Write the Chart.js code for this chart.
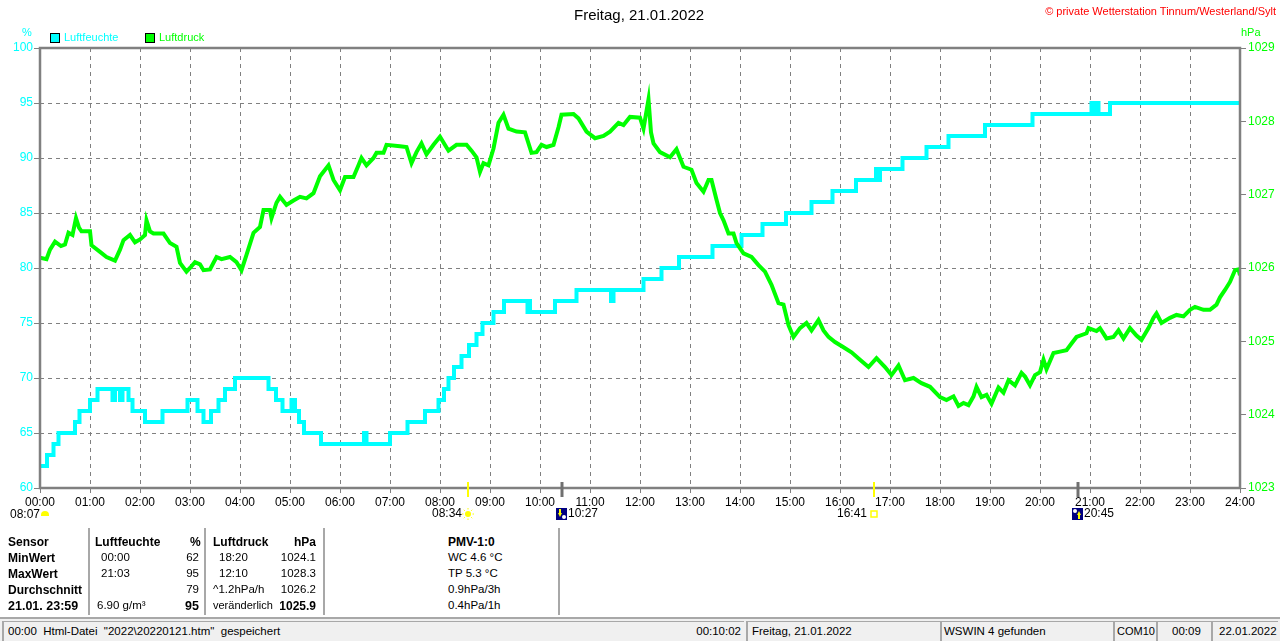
<!DOCTYPE html>
<html>
<head>
<meta charset="utf-8">
<script src="https://cdn.jsdelivr.net/npm/chart.js@4.4.1/dist/chart.umd.min.js"></script>
<style>
  html, body { margin:0; padding:0; background:#fff; }
  body { width:1280px; height:641px; position:relative; overflow:hidden; font-family:"Liberation Sans", Arial, sans-serif; }
  #wrap { position:absolute; left:0; top:0; width:1280px; height:520px; }
  .t { position:absolute; white-space:nowrap; line-height:1; font-size:11.5px; }
  .b { font-weight:bold; font-size:12px; }
  .sep { position:absolute; top:528px; height:87px; width:2px; background:#a8a8a8; }
  #status { position:absolute; left:0; top:617px; width:1280px; height:24px; background:#f0f0f0; border-top:2px solid #a8a8a8; box-sizing:border-box; }
  .pan { position:absolute; top:2px; height:20px; border-left:2px solid #a8a8a8; border-top:1px solid #a8a8a8; box-sizing:border-box; font-size:11.5px; line-height:18px; padding-left:4px; white-space:nowrap; overflow:hidden; }
</style>
</head>
<body>
<div id="wrap"><canvas id="c" width="1280" height="520"></canvas></div>

<div class="t" style="left:574px;top:7px;font-size:15px;color:#000;">Freitag, 21.01.2022</div>
<div class="t" style="right:4px;top:6px;font-size:11px;color:#ff0000;">© private Wetterstation Tinnum/Westerland/Sylt</div>
<div class="t" style="left:22px;top:27px;font-size:11px;color:#00ffff;">%</div>
<div class="t" style="left:1241px;top:27px;font-size:11px;color:#00ff00;">hPa</div>
<div style="position:absolute;left:50px;top:33px;width:8px;height:8px;background:#00ffff;border:1px solid #000;"></div>
<div class="t" style="left:64px;top:32px;font-size:11px;color:#00ffff;">Luftfeuchte</div>
<div style="position:absolute;left:145px;top:33px;width:8px;height:8px;background:#00ff00;border:1px solid #000;"></div>
<div class="t" style="left:159px;top:32px;font-size:11px;color:#00ff00;">Luftdruck</div>

<div class="t" style="left:10px;top:508px;font-size:12px;color:#000;">08:07</div>
<div style="position:absolute;left:41px;top:511px;width:8px;height:5px;background:#ffff00;border-radius:5px 5px 0 0;"></div>

<!-- stats table -->
<div class="sep" style="left:88px"></div>
<div class="sep" style="left:204px"></div>
<div class="sep" style="left:323px"></div>
<div class="sep" style="left:558px"></div>

<div class="t b" style="left:8px;top:536px;">Sensor</div>
<div class="t b" style="left:8px;top:552px;">MinWert</div>
<div class="t b" style="left:8px;top:568px;">MaxWert</div>
<div class="t b" style="left:8px;top:584px;">Durchschnitt</div>
<div class="t b" style="left:8px;top:600px;font-size:12.5px;">21.01. 23:59</div>

<div class="t b" style="left:95px;top:536px;">Luftfeuchte</div>
<div class="t b" style="left:190px;top:536px;">%</div>
<div class="t" style="left:101px;top:552px;">00:00</div>
<div class="t" style="right:1081px;top:552px;">62</div>
<div class="t" style="left:101px;top:568px;">21:03</div>
<div class="t" style="right:1081px;top:568px;">95</div>
<div class="t" style="right:1081px;top:584px;">79</div>
<div class="t" style="left:97px;top:600px;">6.90 g/m³</div>
<div class="t b" style="right:1081px;top:600px;font-size:12.5px;">95</div>

<div class="t b" style="left:213px;top:536px;">Luftdruck</div>
<div class="t b" style="right:964px;top:536px;">hPa</div>
<div class="t" style="left:219px;top:552px;">18:20</div>
<div class="t" style="right:964px;top:552px;">1024.1</div>
<div class="t" style="left:219px;top:568px;">12:10</div>
<div class="t" style="right:964px;top:568px;">1028.3</div>
<div class="t" style="left:213px;top:584px;">^1.2hPa/h</div>
<div class="t" style="right:964px;top:584px;">1026.2</div>
<div class="t" style="left:213px;top:600px;font-size:11px;">veränderlich</div>
<div class="t b" style="right:964px;top:600px;">1025.9</div>

<div class="t b" style="left:448px;top:536px;">PMV-1:0</div>
<div class="t" style="left:448px;top:552px;">WC 4.6 °C</div>
<div class="t" style="left:448px;top:568px;">TP 5.3 °C</div>
<div class="t" style="left:448px;top:584px;">0.9hPa/3h</div>
<div class="t" style="left:448px;top:600px;">0.4hPa/1h</div>

<div id="status">
  <div class="pan" style="left:2px;width:742px;">00:00&nbsp; Html-Datei&nbsp; "2022\20220121.htm"&nbsp; gespeichert<span style="position:absolute;right:3px;top:0;">00:10:02</span></div>
  <div class="pan" style="left:746px;width:194px;">Freitag, 21.01.2022</div>
  <div class="pan" style="left:940px;width:173px;padding-left:2px;">WSWIN 4 gefunden</div>
  <div class="pan" style="left:1113px;width:43px;padding-left:2px;font-size:11px;">COM10</div>
  <div class="pan" style="left:1156px;width:55px;padding-left:14px;">00:09</div>
  <div class="pan" style="left:1211px;width:67px;padding-left:6px;">22.01.2022</div>
</div>

<script>
// ---- data (hours of day) ----
const hourTicks = ['00:00','01:00','02:00','03:00','04:00','05:00','06:00','07:00','08:00','09:00','10:00','11:00','12:00','13:00','14:00','15:00','16:00','17:00','18:00','19:00','20:00','21:00','22:00','23:00','24:00'];

// Luftfeuchte (%) change points: time in hours, value
const humTimes = [0,0.14,0.27,0.37,0.7,0.79,1.0,1.15,1.45,1.5,1.6,1.65,1.77,1.85,2.1,2.45,2.95,3.15,3.27,3.42,3.57,3.7,3.9,4.57,4.72,4.85,5.03,5.1,5.18,5.28,5.62,6.48,6.53,7.0,7.35,7.7,7.97,8.08,8.17,8.28,8.43,8.58,8.73,8.85,9.07,9.28,9.75,9.78,9.8,10.3,10.73,11.42,11.47,12.07,12.43,12.78,13.45,14.03,14.45,14.92,15.43,15.85,16.32,16.72,16.77,16.8,17.25,17.73,18.17,18.9,19.85,21.03,21.08,21.13,21.17,21.4,24];
const humValues = [62,63,64,65,66,67,68,69,68,69,68,69,68,67,66,67,68,67,66,67,68,69,70,69,68,67,68,67,66,65,64,65,64,65,66,67,68,69,70,71,72,73,74,75,76,77,76,77,76,77,78,77,78,79,80,81,82,83,84,85,86,87,88,89,88,89,90,91,92,93,94,95,94,95,94,95,95];

// Luftdruck (hPa)
const presTimes = [0,0.13,0.2,0.3,0.42,0.5,0.57,0.65,0.72,0.78,0.83,1.0,1.03,1.2,1.33,1.5,1.6,1.67,1.8,1.9,2.0,2.1,2.13,2.2,2.27,2.47,2.6,2.73,2.8,2.93,3.0,3.1,3.2,3.27,3.4,3.53,3.63,3.8,3.93,4.03,4.13,4.27,4.4,4.47,4.6,4.63,4.73,4.8,4.93,5.07,5.2,5.33,5.47,5.6,5.77,5.87,6.0,6.1,6.27,6.37,6.43,6.53,6.67,6.73,6.87,6.93,7.2,7.33,7.43,7.53,7.63,7.73,7.87,8.0,8.17,8.33,8.53,8.63,8.73,8.8,8.87,8.97,9.07,9.17,9.27,9.37,9.53,9.7,9.83,9.93,10.03,10.13,10.27,10.37,10.43,10.67,10.77,10.93,11.1,11.27,11.4,11.57,11.67,11.8,12.0,12.07,12.17,12.22,12.27,12.4,12.6,12.73,12.87,13.03,13.13,13.27,13.37,13.43,13.53,13.6,13.67,13.77,13.87,13.93,14.07,14.23,14.37,14.5,14.63,14.77,14.87,14.97,15.07,15.2,15.33,15.43,15.57,15.67,15.77,15.9,16.07,16.23,16.4,16.57,16.73,16.9,17.03,17.17,17.3,17.47,17.63,17.8,18.0,18.13,18.27,18.37,18.47,18.57,18.67,18.73,18.83,18.93,19.03,19.17,19.27,19.37,19.5,19.63,19.7,19.8,19.9,20.0,20.07,20.13,20.27,20.4,20.53,20.63,20.73,20.93,20.97,21.13,21.2,21.33,21.47,21.57,21.67,21.8,21.93,22.03,22.17,22.27,22.33,22.43,22.6,22.73,22.87,23.0,23.1,23.27,23.4,23.53,23.6,23.7,23.8,23.9,23.97,24.0];
const presValues = [1026.14,1026.12,1026.25,1026.36,1026.3,1026.32,1026.48,1026.45,1026.68,1026.55,1026.5,1026.5,1026.31,1026.22,1026.15,1026.1,1026.25,1026.38,1026.45,1026.35,1026.39,1026.45,1026.65,1026.5,1026.47,1026.47,1026.34,1026.29,1026.07,1025.95,1026.0,1026.08,1026.05,1025.97,1025.98,1026.15,1026.12,1026.15,1026.08,1025.97,1026.18,1026.48,1026.56,1026.79,1026.79,1026.68,1026.89,1026.97,1026.86,1026.92,1026.97,1026.95,1027.02,1027.25,1027.4,1027.2,1027.06,1027.24,1027.24,1027.4,1027.5,1027.4,1027.5,1027.57,1027.57,1027.68,1027.66,1027.65,1027.43,1027.58,1027.7,1027.55,1027.68,1027.79,1027.6,1027.68,1027.68,1027.6,1027.51,1027.31,1027.43,1027.4,1027.63,1027.98,1028.09,1027.9,1027.86,1027.85,1027.57,1027.58,1027.68,1027.65,1027.68,1027.92,1028.09,1028.1,1028.04,1027.86,1027.77,1027.8,1027.86,1027.98,1027.95,1028.06,1028.05,1027.9,1028.3,1027.85,1027.7,1027.58,1027.51,1027.62,1027.38,1027.34,1027.16,1027.04,1027.2,1027.2,1026.93,1026.75,1026.65,1026.47,1026.47,1026.34,1026.2,1026.15,1026.04,1025.95,1025.77,1025.52,1025.5,1025.22,1025.06,1025.18,1025.25,1025.15,1025.29,1025.15,1025.06,1024.99,1024.92,1024.85,1024.75,1024.65,1024.77,1024.65,1024.54,1024.67,1024.47,1024.5,1024.43,1024.38,1024.24,1024.2,1024.25,1024.12,1024.16,1024.13,1024.25,1024.38,1024.24,1024.27,1024.15,1024.37,1024.3,1024.47,1024.4,1024.57,1024.52,1024.4,1024.54,1024.58,1024.75,1024.62,1024.84,1024.86,1024.88,1024.97,1025.06,1025.11,1025.18,1025.14,1025.18,1025.04,1025.06,1025.15,1025.04,1025.18,1025.08,1025.02,1025.18,1025.32,1025.38,1025.25,1025.32,1025.36,1025.34,1025.43,1025.47,1025.43,1025.43,1025.5,1025.6,1025.7,1025.81,1025.97,1025.98,1025.9];

// sun / moon events
const eventTimes = ['08:34','10:27','16:41','20:45'];
const eventKinds = ['sunrise','moonrise','sunset','moonset'];

function toHours(s){ const p=s.split(':'); return +p[0] + (+p[1])/60; }

const humData = humTimes.map((t,i)=>({x:t, y:humValues[i]}));
const presData = presTimes.map((t,i)=>({x:t, y:presValues[i]}));

const GRAY = '#808080';

const framePlugin = {
  id:'frame',
  afterDraw(chart){
    const {ctx, chartArea:a, scales} = chart;
    ctx.save();
    ctx.strokeStyle = GRAY; ctx.lineWidth = 2.5;
    ctx.strokeRect(a.left, a.top, a.right-a.left, a.bottom-a.top);
    // events
    const xs = scales.x;
    ctx.font = '12px "Liberation Sans", Arial, sans-serif';
    ctx.textBaseline = 'middle';
    ctx.fillStyle = '#000';
    eventTimes.forEach((s,i)=>{
      const kind = eventKinds[i];
      const x = Math.round(xs.getPixelForValue(toHours(s)));
      const sun = kind==='sunrise' || kind==='sunset';
      ctx.strokeStyle = sun ? '#ffff00' : '#707070';
      ctx.lineWidth = sun ? 2 : 3;
      ctx.beginPath(); ctx.moveTo(x, a.bottom-6); ctx.lineTo(x, a.bottom+9); ctx.stroke();
      const y = 514;
      if (kind==='sunrise'){
        ctx.fillStyle='#ffff00'; ctx.strokeStyle='#ffff00'; ctx.lineWidth=1;
        ctx.beginPath(); ctx.arc(x, y, 3, 0, Math.PI*2); ctx.fill();
        for(let k=0;k<8;k++){ const an=k*Math.PI/4; ctx.beginPath(); ctx.moveTo(x+Math.cos(an)*4.5,y+Math.sin(an)*4.5); ctx.lineTo(x+Math.cos(an)*6,y+Math.sin(an)*6); ctx.stroke(); }
        ctx.fillStyle='#000'; ctx.textAlign='right'; ctx.fillText(s, x-6, y);
      } else if (kind==='sunset'){
        ctx.strokeStyle='#ffff00'; ctx.lineWidth=1.5;
        ctx.strokeRect(x-3, y-3, 6, 6);
        ctx.fillStyle='#000'; ctx.textAlign='right'; ctx.fillText(s, x-7, y);
      } else {
        ctx.fillStyle='#000080'; ctx.fillRect(x-6, y-6, 11, 12);
        ctx.fillStyle='#ffffff'; ctx.beginPath(); ctx.arc(kind==='moonrise'? x+2 : x-3, y+ (kind==='moonrise'?3:-3), 2, 0, Math.PI*2); ctx.fill();
        ctx.fillStyle='#ffff00'; ctx.beginPath();
        if (kind==='moonrise'){ ctx.moveTo(x-4,y-1); ctx.lineTo(x,y-1); ctx.lineTo(x-2,y+3); }
        else { ctx.moveTo(x-1,y+1); ctx.lineTo(x+3,y+1); ctx.lineTo(x+1,y-3); }
        ctx.fill(); ctx.fillRect(kind==='moonrise'?x-3:x, kind==='moonrise'?y-5:y+1, 2, 4);
        ctx.fillStyle='#000'; ctx.textAlign='left'; ctx.fillText(s, x+6, y);
      }
    });
    ctx.restore();
  }
};

new Chart(document.getElementById('c'), {
  type:'line',
  data:{ datasets:[
    { label:'Luftdruck', data:presData, yAxisID:'y2', borderColor:'#00ff00', backgroundColor:'#00ff00', borderWidth:4, pointRadius:0, tension:0, fill:false },
    { label:'Luftfeuchte', data:humData, yAxisID:'y', borderColor:'#00ffff', backgroundColor:'#00ffff', borderWidth:4, pointRadius:0, stepped:true, fill:false }
  ]},
  options:{
    responsive:false, animation:false, devicePixelRatio:1,
    layout:{ padding:{ top:48, left:0, right:0, bottom:0 } },
    plugins:{ legend:{display:false}, title:{display:false}, tooltip:{enabled:false} },
    scales:{
      x:{ type:'linear', min:0, max:24, position:'bottom',
          afterFit(s){ s.height = 32; },
          afterBuildTicks(s){ s.ticks = hourTicks.map((l,i)=>({value:i})); },
          ticks:{ stepSize:1, autoSkip:false, maxRotation:0, color:'#000', padding:2,
                  font:{family:'"Liberation Sans", Arial, sans-serif', size:12},
                  callback:(v,i)=>hourTicks[i] },
          grid:{ color:GRAY, lineWidth:1, tickLength:5, tickColor:GRAY, tickBorderDash:[], tickWidth:1 },
          border:{ display:false, dash:[4,4] } },
      y:{ type:'linear', position:'left', min:60, max:100,
          afterFit(s){ s.width = 40; },
          ticks:{ stepSize:5, color:'#00ffff', padding:1, font:{family:'"Liberation Sans", Arial, sans-serif', size:12},
                  callback:(v)=>String(v) },
          grid:{ color:GRAY, lineWidth:1, tickLength:6, tickColor:GRAY, tickBorderDash:[], tickWidth:1 },
          border:{ display:false, dash:[4,4] } },
      y2:{ type:'linear', position:'right', min:1023, max:1029,
          afterFit(s){ s.width = 40; },
          ticks:{ stepSize:1, color:'#00ff00', padding:2, font:{family:'"Liberation Sans", Arial, sans-serif', size:12},
                  callback:(v)=>String(v) },
          grid:{ drawOnChartArea:false, tickLength:6, tickColor:GRAY, tickWidth:1 },
          border:{ display:false } }
    }
  },
  plugins:[framePlugin]
});
</script>
</body>
</html>
